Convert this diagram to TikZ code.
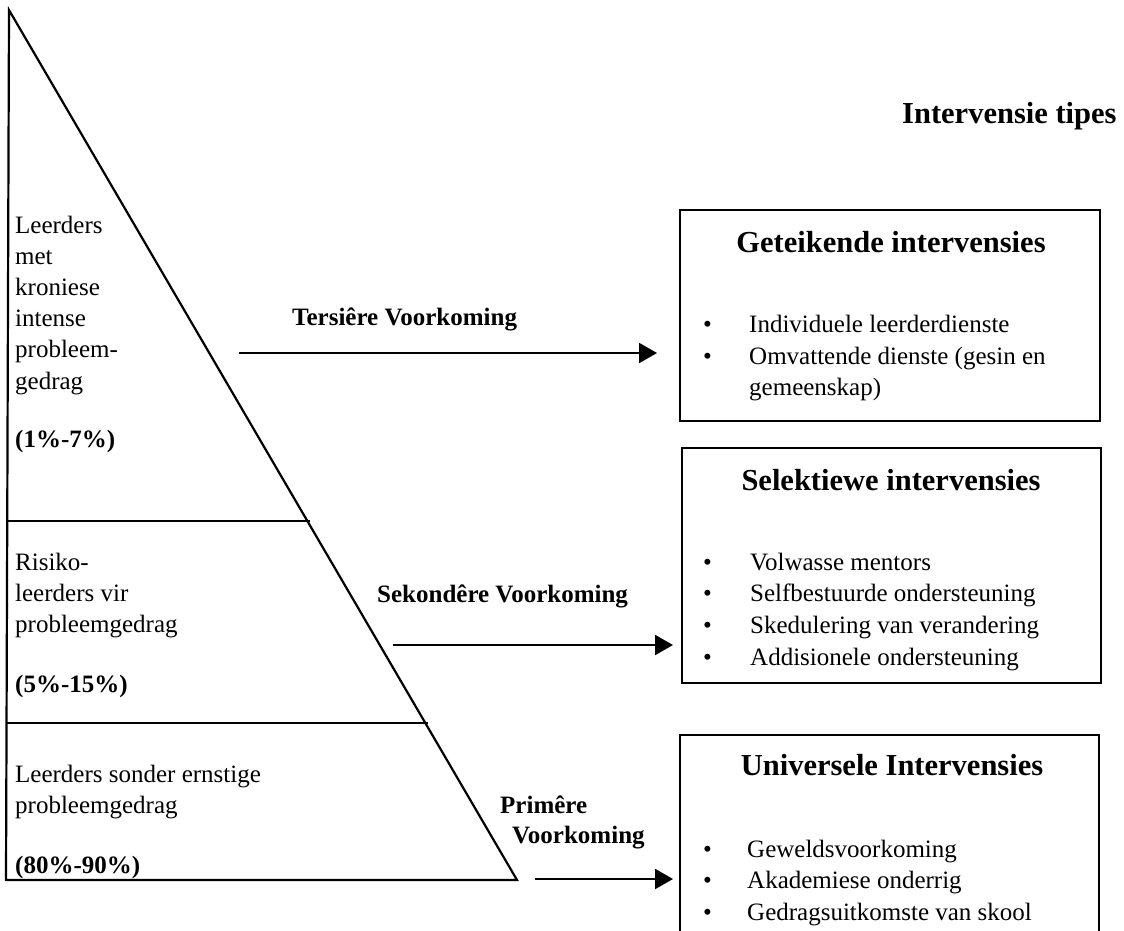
\documentclass[tikz,border=0pt]{standalone}
\usepackage{fontspec}
\setmainfont{Liberation Serif}
\usetikzlibrary{arrows.meta}
\newcommand\bodyfont{\fontsize{25}{31.4}\selectfont}
\newcommand\ttlfont{\fontsize{30.5}{36}\selectfont}
\begin{document}
\begin{tikzpicture}[x=1pt,y=-1pt,
  ln/.style={line width=2.2pt, line join=miter},
  txt/.style={font=\bodyfont, inner sep=0pt, anchor=base west},
  btxt/.style={font=\bodyfont\bfseries, inner sep=0pt, anchor=base west},
  ttl/.style={font=\ttlfont\bfseries, inner sep=0pt, anchor=base},
  bul/.style={font=\bodyfont, inner sep=0pt, anchor=base},
  box/.style={draw, line width=2.2pt, inner sep=0pt},
  arr/.style={line width=2.2pt, -{Triangle[length=18pt,width=20pt]}}]
\useasboundingbox (0,0) rectangle (1124,930);
\clip (0,0) rectangle (1124,930);

% pyramid
\coordinate (apex) at (9,10);
\coordinate (br) at (517,880);
\coordinate (bl) at (6,880);
\draw[ln] (apex) -- (br) -- (bl) -- cycle;
\coordinate (d1l) at (6,521);
\coordinate (d1r) at (310,521);
\coordinate (d2l) at (6,723);
\coordinate (d2r) at (428,723);
\draw[ln] (d1l) -- (d1r);
\draw[ln] (d2l) -- (d2r);

% left texts
\foreach \t [count=\i] in {Leerders, met, kroniese, intense, probleem-, gedrag}
  \node[txt] (ta\i) at (15,{233+31.2*(\i-1)}) {\t};
\node[btxt] (pa) at (15,447) {(1\%-7\%)};
\foreach \t [count=\i] in {Risiko-, leerders vir, probleemgedrag}
  \node[txt] (tb\i) at (15,{570+31*(\i-1)}) {\t};
\node[btxt] (pb) at (15,692) {(5\%-15\%)};
\node[txt] (tc1) at (15,782) {Leerders sonder ernstige};
\node[txt] (tc2) at (15,813) {probleemgedrag};
\node[btxt] (pc) at (15,873) {(80\%-90\%)};

% heading
\node[ttl, anchor=base west] (head) at (902,123) {Intervensie tipes};

% arrow labels
\node[btxt] (lt) at (292,325) {Tersiêre Voorkoming};
\node[btxt] (ls) at (377,602) {Sekondêre Voorkoming};
\node[btxt] (lp1) at (500,813) {Primêre};
\node[btxt] (lp2) at (512,843) {Voorkoming};

% arrows
\coordinate (a1s) at (239,353); \coordinate (a1e) at (657,353);
\coordinate (a2s) at (393,645); \coordinate (a2e) at (673,645);
\coordinate (a3s) at (535,879); \coordinate (a3e) at (673,879);
\draw[arr] (a1s) -- (a1e);
\draw[arr] (a2s) -- (a2e);
\draw[arr] (a3s) -- (a3e);

% box 1
\node[box, minimum width=420pt, minimum height=211pt] (box1) at (890,315.5) {};
\node[ttl] (t1) at (891,252) {Geteikende intervensies};
\node[bul] (b11) at (707.5,332) {•};
\node[bul] (b12) at (707.5,364) {•};
\node[txt] (i11) at (749,332) {Individuele leerderdienste};
\node[txt] (i12) at (749,364) {Omvattende dienste (gesin en};
\node[txt] (i13) at (749,395) {gemeenskap)};

% box 2
\node[box, minimum width=419pt, minimum height=235pt] (box2) at (891.5,565.5) {};
\node[ttl] (t2) at (891,490) {Selektiewe intervensies};
\foreach \t [count=\i] in {Volwasse mentors, Selfbestuurde ondersteuning, Skedulering van verandering, Addisionele ondersteuning}{
  \node[bul] (b2\i) at (707.5,{570+31.7*(\i-1)}) {•};
  \node[txt] (i2\i) at (750,{570+31.7*(\i-1)}) {\t};
}

% box 3 (cut by the lower edge)
\coordinate (c3a) at (680,935);
\coordinate (c3b) at (680,735);
\coordinate (c3c) at (1099,735);
\coordinate (c3d) at (1099,935);
\draw[ln] (c3a) -- (c3b) -- (c3c) -- (c3d);
\node[ttl] (t3) at (892,775) {Universele Intervensies};
\foreach \t [count=\i] in {Geweldsvoorkoming, Akademiese onderrig, Gedragsuitkomste van skool}{
  \node[bul] (b3\i) at (707.5,{857+31.5*(\i-1)}) {•};
  \node[txt] (i3\i) at (747,{857+31.5*(\i-1)}) {\t};
}
\end{tikzpicture}
\end{document}
